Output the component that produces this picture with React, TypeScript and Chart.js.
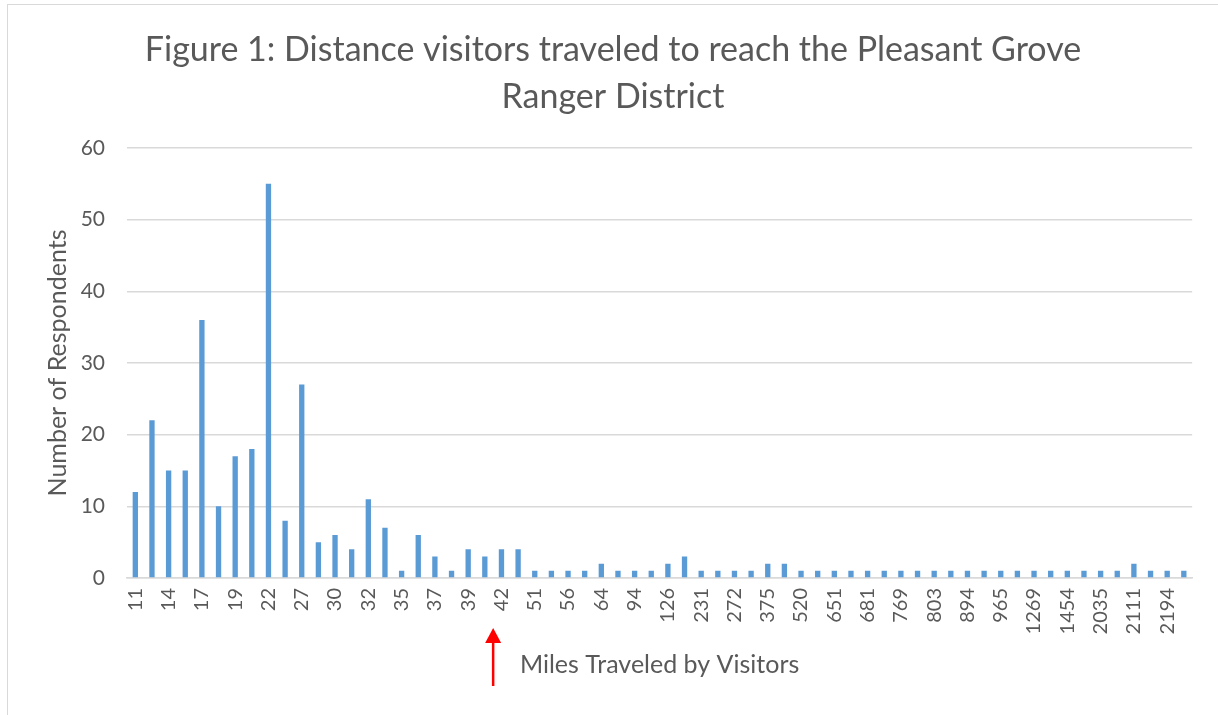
import React, { useEffect, useRef } from "react";
import { Chart, registerables } from "chart.js";

Chart.register(...registerables);

const titleLines = ["Figure 1: Distance visitors traveled to reach the Pleasant Grove", "Ranger District"];
const xAxisTitle = "Miles Traveled by Visitors";
const yAxisTitle = "Number of Respondents";

const categories = [
  "11", "12", "14", "15", "17", "18", "19", "20", "22", "25", "27", "28", "30", "31", "32", "34",
  "35", "36", "37", "38", "39", "40", "42", "45", "51", "55", "56", "60", "64", "80", "94", "100",
  "126", "200", "231", "250", "272", "300", "375", "400", "520", "600", "651", "660", "681", "700", "769", "780",
  "803", "850", "894", "900", "965", "1000", "1269", "1400", "1454", "1800", "2035", "2100", "2111", "2150", "2194", "2300",
];

const respondents = [
  12, 22, 15, 15, 36, 10, 17, 18, 55, 8, 27, 5, 6, 4, 11, 7,
  1, 6, 3, 1, 4, 3, 4, 4, 1, 1, 1, 1, 2, 1, 1, 1,
  2, 3, 1, 1, 1, 1, 2, 2, 1, 1, 1, 1, 1, 1, 1, 1,
  1, 1, 1, 1, 1, 1, 1, 1, 1, 1, 1, 1, 2, 1, 1, 1,
];

const yTicks = [0, 10, 20, 30, 40, 50, 60];

const FONT = "Lato, 'Open Sans', sans-serif";
const TEXT = "#595959";
const GRID = "#d9d9d9";
const BAR = "#5b9bd5";

const arrowPlugin = {
  id: "arrowPlugin",
  afterDraw(chart: any) {
    const x = chart.scales.x;
    const area = chart.chartArea;
    const px = (x.getPixelForValue(21) + x.getPixelForValue(22)) / 2;
    const tip = area.bottom + 50;
    const base = area.bottom + 108;
    const ctx = chart.ctx;
    ctx.save();
    ctx.strokeStyle = "#ff0000";
    ctx.fillStyle = "#ff0000";
    ctx.lineWidth = 2.5;
    ctx.beginPath();
    ctx.moveTo(px, tip + 12);
    ctx.lineTo(px, base);
    ctx.stroke();
    ctx.beginPath();
    ctx.moveTo(px, tip);
    ctx.lineTo(px - 8, tip + 15);
    ctx.lineTo(px + 8, tip + 15);
    ctx.closePath();
    ctx.fill();
    ctx.restore();
  },
};

export default function App() {
  const ref = useRef<HTMLCanvasElement>(null);
  useEffect(() => {
    document.body.style.overflow = "hidden";
    const chart = new Chart(ref.current!, {
      type: "bar",
      data: {
        labels: categories,
        datasets: [
          {
            data: respondents,
            backgroundColor: BAR,
            barPercentage: 0.32,
            categoryPercentage: 1,
          },
        ],
      },
      plugins: [arrowPlugin],
      options: {
        animation: false,
        responsive: false,
        maintainAspectRatio: false,
        layout: { padding: { left: 22, right: 22, top: 0, bottom: 0 } },
        plugins: {
          legend: { display: false },
          tooltip: { enabled: false },
          title: {
            display: true,
            text: titleLines,
            color: TEXT,
            font: { family: FONT, size: 34, weight: "normal", lineHeight: 47 / 34 },
            padding: { top: 22, bottom: 27 },
          },
        },
        scales: {
          x: {
            grid: { display: false, drawTicks: false },
            border: { display: true, color: GRID, width: 1.5 },
            ticks: {
              color: TEXT,
              font: { family: FONT, size: 20 },
              minRotation: 90,
              maxRotation: 90,
              autoSkip: false,
              padding: 10,
              callback: (_v: any, i: number) => (i % 2 === 0 ? categories[i] : ""),
            },
            title: {
              display: true,
              text: xAxisTitle,
              color: TEXT,
              font: { family: FONT, size: 25 },
              padding: { top: 0, bottom: 35 },
            },
            afterFit: (s: any) => {
              s.height = 137;
            },
          },
          y: {
            min: 0,
            max: 60,
            afterBuildTicks: (s: any) => {
              s.ticks = yTicks.map((v) => ({ value: v }));
            },
            grid: { color: GRID, lineWidth: 1.5, drawTicks: false },
            border: { display: false },
            ticks: {
              color: TEXT,
              font: { family: FONT, size: 21 },
              padding: 22,
            },
            title: {
              display: true,
              text: yAxisTitle,
              color: TEXT,
              font: { family: FONT, size: 25 },
              padding: { top: 13, bottom: 0 },
            },
            afterFit: (s: any) => {
              s.width = 97;
            },
          },
        },
      },
    });
    return () => chart.destroy();
  }, []);
  return (
    <div
      style={{
        position: "absolute",
        left: 7,
        top: 4,
        width: 1212,
        height: 712,
        border: "1px solid #d9d9d9",
        boxSizing: "border-box",
        background: "#fff",
      }}
    >
      <canvas ref={ref} width={1210} height={710} style={{ display: "block" }} />
    </div>
  );
}
